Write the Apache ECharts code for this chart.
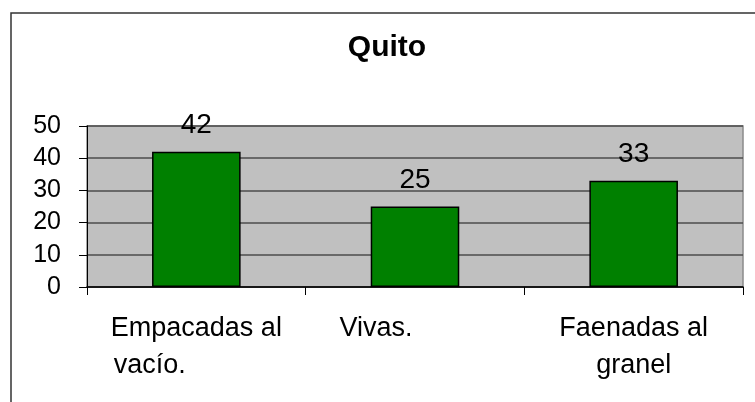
<!DOCTYPE html>
<html>
<head>
<meta charset="utf-8">
<script src="https://cdn.jsdelivr.net/npm/echarts@6/dist/echarts.min.js"></script>
<style>
  html, body { margin: 0; padding: 0; background: #ffffff; }
  #chart { width: 755px; height: 402px; }
</style>
</head>
<body>
<div id="chart"></div>
<script>
// Chart data
const chartTitle = 'Quito';
const categories = ['Empacadas al vacío.', 'Vivas.', 'Faenadas al granel'];
const values = [42, 25, 33];
const yTicks = [0, 10, 20, 30, 40, 50];

const FONT = '"Liberation Sans", Arial, sans-serif';

// Wrapped category labels, styled per line with rich text
function categoryLabel(value, index) {
  if (index === 0) return '{c|Empacadas al}\n{l|vacío.}';
  if (index === 1) return '{s|Vivas.}';
  return '{c|Faenadas al}\n{c|granel}';
}

const chart = echarts.init(document.getElementById('chart'), null, { renderer: 'canvas' });

chart.setOption({
  animation: false,
  backgroundColor: '#ffffff',
  title: {
    text: chartTitle,
    left: 387,
    top: 33,
    padding: 0,
    textAlign: 'center',
    textStyle: { fontFamily: FONT, fontSize: 30, fontWeight: 'bold', color: '#000' }
  },
  graphic: [{
    type: 'rect',
    silent: true,
    z: -10,
    shape: { x: 11, y: 13, width: 800, height: 500 },
    style: { fill: 'none', stroke: '#333333', lineWidth: 1.5 }
  }],
  grid: {
    left: 87,
    right: 12,
    top: 126,
    bottom: 115,
    show: true,
    backgroundColor: '#c0c0c0',
    borderColor: '#8a8a8a',
    borderWidth: 1.5
  },
  xAxis: {
    type: 'category',
    data: categories,
    boundaryGap: true,
    axisLine: { show: true, lineStyle: { color: '#000', width: 1.5 } },
    axisTick: { show: true, length: 8, alignWithLabel: false, lineStyle: { color: '#000', width: 1 } },
    axisLabel: {
      interval: 0,
      margin: 23,
      color: '#000',
      fontFamily: FONT,
      fontSize: 27,
      lineHeight: 37,
      formatter: categoryLabel,
      rich: {
        c: { fontFamily: FONT, fontSize: 27, lineHeight: 37, color: '#000' },
        l: { fontFamily: FONT, fontSize: 27, lineHeight: 37, color: '#000', align: 'left', padding: [0, 0, 0, 3] },
        s: { fontFamily: FONT, fontSize: 27, lineHeight: 37, color: '#000', padding: [0, 78, 0, 0] }
      }
    },
    splitLine: { show: false }
  },
  yAxis: {
    type: 'value',
    min: yTicks[0],
    max: yTicks[yTicks.length - 1],
    interval: yTicks[1] - yTicks[0],
    axisLine: { show: true, lineStyle: { color: '#000', width: 1 } },
    axisTick: { show: true, length: 8, lineStyle: { color: '#000', width: 1 } },
    axisLabel: {
      margin: 26,
      color: '#000',
      fontFamily: FONT,
      fontSize: 25
    },
    splitLine: {
      show: true,
      lineStyle: { color: '#4d4d4d', width: 1.5 }
    }
  },
  series: [{
    type: 'bar',
    data: values,
    barWidth: '40.5%',
    itemStyle: { color: '#008000', borderColor: '#000', borderWidth: 1.5 },
    label: {
      show: true,
      position: 'top',
      distance: 12,
      color: '#000',
      fontFamily: FONT,
      fontSize: 28
    }
  }]
});
</script>
</body>
</html>
